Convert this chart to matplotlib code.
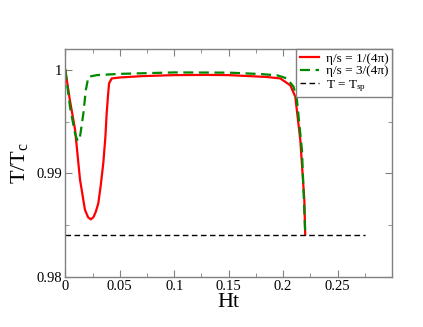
import matplotlib
matplotlib.use("Agg")
import matplotlib.pyplot as plt
from matplotlib.ticker import MultipleLocator

plt.rcParams['font.family'] = ['Liberation Serif', 'DejaVu Serif']
plt.rcParams['mathtext.fontset'] = 'custom'
plt.rcParams['mathtext.rm'] = 'Liberation Serif'
plt.rcParams['mathtext.it'] = 'Liberation Serif:italic'

# eta/s = 1/(4 pi)
red_x = [0.0, 0.004, 0.009, 0.0135, 0.018, 0.021, 0.0235, 0.026, 0.028, 0.0303,
         0.0325, 0.0349, 0.0368, 0.038, 0.0392, 0.0402, 0.0426, 0.05, 0.07, 0.1,
         0.13, 0.15, 0.17, 0.185, 0.1974, 0.2066, 0.2112, 0.2158, 0.2195, 0.2203]
red_y = [1.0, 0.9972, 0.9942, 0.9894, 0.9865, 0.98575, 0.98556, 0.9858, 0.9863, 0.9871,
         0.9888, 0.9910, 0.9935, 0.9958, 0.9975, 0.99868, 0.99916, 0.99925, 0.99938, 0.99948,
         0.9995, 0.99948, 0.99938, 0.9993, 0.99916, 0.9985, 0.99739, 0.99321, 0.98742, 0.9841]

# eta/s = 3/(4 pi)
green_x = [0.0, 0.0043, 0.0089, 0.0114, 0.0135, 0.0166, 0.0188, 0.0212, 0.0289, 0.05,
           0.1, 0.15, 0.18, 0.195, 0.2035, 0.2096, 0.2127, 0.2173, 0.2203]
green_y = [1.0, 0.99642, 0.99386, 0.99311, 0.99353, 0.99579, 0.9980, 0.99932, 0.99948, 0.9996,
           0.99974, 0.99972, 0.99958, 0.99945, 0.99916, 0.99836, 0.9971, 0.99225, 0.98421]

# spinodal temperature
tsp_x = [0.0, 0.275]
tsp_y = [0.9841, 0.9841]

xticks = [0, 0.05, 0.1, 0.15, 0.2, 0.25]
xtick_labels = ['0', '0.05', '0.1', '0.15', '0.2', '0.25']
yticks = [0.98, 0.99, 1.0]
ytick_labels = ['0.98', '0.99', '1']

fig = plt.figure(figsize=(4.23, 3.27), dpi=100)
ax = fig.add_axes([65.3/423, 1 - 277/327, (392 - 65.3)/423, (277 - 49)/327])

ax.plot(red_x, red_y, color='#ff0000', lw=1.6, label=r'η/s = 1/(4π)')
ax.plot(green_x, green_y, color='#008800', lw=1.6, ls=(0, (4.5, 2.5)), label=r'η/s = 3/(4π)')
ax.plot(tsp_x, tsp_y, color='black', lw=1.0, ls=(0, (4, 2.5)), label=r'T = T$_{\rm sp}$')

ax.set_xlim(0, 0.3)
ax.set_ylim(0.98, 1.002)
ax.set_xticks(xticks)
ax.set_xticklabels(xtick_labels)
ax.set_yticks(yticks)
ax.set_yticklabels(ytick_labels)
ax.xaxis.set_minor_locator(MultipleLocator(0.025))
ax.yaxis.set_minor_locator(MultipleLocator(0.005))

for s in ax.spines.values():
    s.set_color('#808080')
    s.set_linewidth(1.0)
ax.tick_params(which='both', direction='in', top=True, right=True, color='#808080', labelsize=10.5, pad=2)
ax.tick_params(which='major', length=5)
ax.tick_params(which='minor', length=3)

ax.set_xlabel('Ht', fontsize=16, labelpad=0)
ax.set_ylabel(r'T/T$_{\rm c}$', fontsize=16, labelpad=5)

leg = ax.legend(loc='upper right', bbox_to_anchor=(1, 1), borderaxespad=0,
                fancybox=False, fontsize=9.5, handlelength=1.5, handletextpad=0.5,
                labelspacing=0.05, borderpad=0.25, framealpha=1)
leg.get_frame().set_edgecolor('#808080')
leg.get_frame().set_linewidth(1.0)

fig.savefig('out.png', dpi=100)
